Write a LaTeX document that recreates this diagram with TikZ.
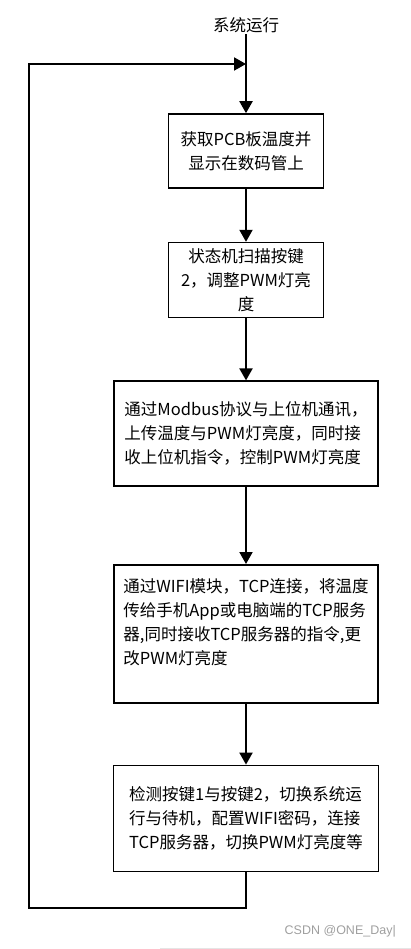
\documentclass[tikz,border=0pt]{standalone}
\usepackage{fontspec}
\setmainfont{Noto Sans CJK SC}
\newfontfamily\wmfont{Liberation Sans}
\usetikzlibrary{positioning, arrows.meta}
\tikzstyle{process} = [rectangle, draw=black, line width=1.6pt, fill=white,
                       inner sep=2pt, text centered,
                       font=\fontsize{16.5}{24}\selectfont]
\tikzstyle{arrow} = [line width=2pt, -{Triangle[length=12pt, width=13pt]}]
\tikzstyle{line}  = [line width=2pt]

\begin{document}
\begin{tikzpicture}[x=1pt, y=1pt]
\useasboundingbox (0,0) rectangle (411,-949);
\node (run) [font=\fontsize{16.5}{20}\selectfont, inner sep=1pt] at (246,-25) {系统运行};
\node (b1) [process, minimum width=155pt, minimum height=74pt,
            align=center] at (246,-151) {获取PCB板温度并\\显示在数码管上};
\node (b2) [process, below=53pt of b1, minimum width=155pt, minimum height=75pt,
            align=center] {状态机扫描按键\\2，调整PWM灯亮\\度};
\node (b3) [process, below=62pt of b2, minimum width=264pt, minimum height=105pt,
            align=left] {通过Modbus协议与上位机通讯，\\上传温度与PWM灯亮度，同时接\\收上位机指令，控制PWM灯亮度};
\node (b4) [process, below=77pt of b3, minimum width=264pt, minimum height=138pt,
            align=left] {通过WIFI模块，TCP连接，将温度\\传给手机App或电脑端的TCP服务\\器,同时接收TCP服务器的指令,更\\改PWM灯亮度\\ \mbox{}};
\node (b5) [process, below=61pt of b4, minimum width=265pt, minimum height=106pt,
            align=left] {检测按键1与按键2，切换系统运\\行与待机，配置WIFI密码，连接\\TCP服务器，切换PWM灯亮度等};
\coordinate (join) at (246,-64);
\coordinate (low)  at (29,-908);

\draw [line]  (run) -- (join);
\draw [arrow] (join) -- (b1);
\draw [arrow] (b1) -- (b2);
\draw [arrow] (b2) -- (b3);
\draw [arrow] (b3) -- (b4);
\draw [arrow] (b4) -- (b5);
\draw [arrow] (b5.south) |- (low) |- (join);

% watermark
\node (mark) [anchor=east, text=gray!75, inner sep=0pt,
              font=\fontsize{12.5}{14}\selectfont\wmfont] at (396,-931) {CSDN @ONE\_Day|};
\draw [gray!20, line width=1pt] (160,-948) -- (411,-948);
\end{tikzpicture}
\end{document}
